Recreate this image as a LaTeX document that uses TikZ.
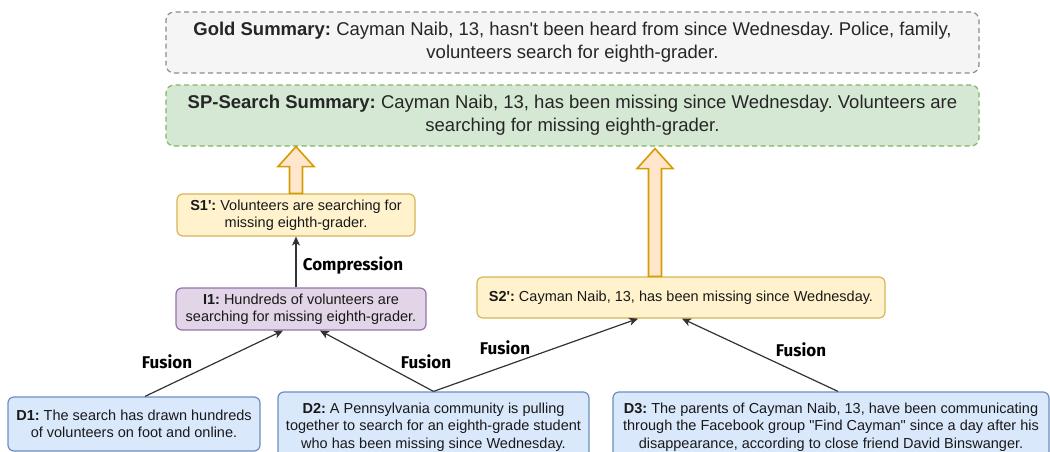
\documentclass[tikz,border=0pt]{standalone}
\usepackage{fontspec}
\setmainfont{Liberation Sans}
\newfontfamily\labelfont{Fira Sans}
\usetikzlibrary{arrows.meta,calc}
\frenchspacing
\definecolor{goldfill}{HTML}{F5F5F5}
\definecolor{golddraw}{HTML}{8C8C8C}
\definecolor{spfill}{HTML}{D5E8D4}
\definecolor{spdraw}{HTML}{82B366}
\definecolor{docfill}{HTML}{DAE8FC}
\definecolor{docdraw}{HTML}{6C8EBF}
\definecolor{sentfill}{HTML}{FFF2CC}
\definecolor{sentdraw}{HTML}{D6B656}
\definecolor{midfill}{HTML}{E1D5E7}
\definecolor{middraw}{HTML}{9673A6}
\definecolor{upfill}{HTML}{FFE6CC}
\definecolor{updraw}{HTML}{D79B00}
\definecolor{edge}{HTML}{333333}
\tikzset{
  summary/.style={rectangle, rounded corners=8pt, dashed, dash pattern=on 5pt off 3.5pt,
    line width=1.2pt, align=center, inner sep=0pt,
    font=\fontsize{18.5}{23}\selectfont, text=black!85},
  box/.style={rectangle, rounded corners=6pt, line width=1.2pt, align=center, inner sep=0pt,
    font=\fontsize{14.5}{17.5}\selectfont, text=black!90},
  doc/.style={box, draw=docdraw, fill=docfill},
  sent/.style={box, draw=sentdraw, fill=sentfill},
  mid/.style={box, draw=middraw, fill=midfill},
  link/.style={draw=edge, line width=1.2pt, -{Stealth[length=9pt,width=8pt,inset=2.5pt]}},
  tag/.style={font=\labelfont\bfseries\fontsize{17}{19}\selectfont, text=black},
  bigup/.style={draw=updraw, fill=upfill, line width=1.6pt, line join=miter},
}
\begin{document}
\begin{tikzpicture}[x=1pt, y=-1pt]
\useasboundingbox (0,0) rectangle (1050,451);

% summaries
\node[summary, draw=golddraw, fill=goldfill, minimum width=813pt, minimum height=61pt] (gold) at (572.5,42.5)
  {\textbf{Gold Summary:} Cayman Naib, 13, hasn\textquotesingle t been heard from since Wednesday. Police, family,\\
   volunteers search for eighth-grader.};
\node[summary, draw=spdraw, fill=spfill, minimum width=813pt, minimum height=61pt] (sp) at (572.5,115.5)
  {\textbf{SP-Search Summary:} Cayman Naib, 13, has been missing since Wednesday. Volunteers are\\
   searching for missing eighth-grader.};

% summary sentences and intermediate sentence
\node[sent, minimum width=238pt, minimum height=42pt] (s1) at (296,215)
  {\textbf{S1\textquotesingle:} Volunteers are searching for\\ missing eighth-grader.};
\node[mid, minimum width=250pt, minimum height=42pt] (i1) at (301,309)
  {\textbf{I1:} Hundreds of volunteers are\\ searching for missing eighth-grader.};
\node[sent, minimum width=408pt, minimum height=41pt] (s2) at (681,297.5)
  {\textbf{S2\textquotesingle:} Cayman Naib, 13, has been missing since Wednesday.};

% source documents
\node[doc, minimum width=252pt, minimum height=54pt] (d1) at (134,424)
  {\textbf{D1:} The search has drawn hundreds\\ of volunteers on foot and online.};
\node[doc, minimum width=311pt, minimum height=70pt] (d2) at (433.5,427)
  {\textbf{D2:} A Pennsylvania community is pulling\\ together to search for an eighth-grade student\\ who has been missing since Wednesday.};
\node[doc, minimum width=436pt, minimum height=70pt] (d3) at (831,427)
  {\textbf{D3:} The parents of Cayman Naib, 13, have been communicating\\ through the Facebook group \textquotedbl Find Cayman\textquotedbl{} since a day after his\\ disappearance, according to close friend David Binswanger.};

% fusion and compression edges
\draw[link] ([xshift=11pt]d1.north) -- ([xshift=-18pt]i1.south);
\draw[link] (d2.north) -- ([xshift=19pt]i1.south);
\draw[link] (d2.north) -- ([xshift=-43pt]s2.south);
\draw[link] ([xshift=7pt]d3.north) -- ([xshift=1pt]s2.south);
\draw[link] (i1.north -| s1.south) -- (s1.south);

\node[tag] (f1) at (167,362) {Fusion};
\node[tag] (f2) at (426,362) {Fusion};
\node[tag] (f3) at (505,348) {Fusion};
\node[tag] (f4) at (801,350) {Fusion};
\node[tag] (cmp) at (353,265) {Compression};

% block arrows lifting sentences into the summary
\coordinate (u1b) at (s1.north);
\coordinate (u1t) at (s1.north |- sp.south);
\draw[bigup] ([xshift=-6.5pt]u1b) -- ([xshift=-6.5pt,yshift=-20pt]u1t) -- ([xshift=-18pt,yshift=-20pt]u1t)
  -- (u1t) -- ([xshift=18pt,yshift=-20pt]u1t) -- ([xshift=6.5pt,yshift=-20pt]u1t) -- ([xshift=6.5pt]u1b) -- cycle;
\coordinate (u2b) at ([xshift=-26pt]s2.north);
\coordinate (u2t) at (u2b |- sp.south);
\draw[bigup] ([xshift=-6.5pt]u2b) -- ([xshift=-6.5pt,yshift=-22pt]u2t) -- ([xshift=-18pt,yshift=-22pt]u2t)
  -- ([yshift=-2pt]u2t) -- ([xshift=18pt,yshift=-22pt]u2t) -- ([xshift=6.5pt,yshift=-22pt]u2t) -- ([xshift=6.5pt]u2b) -- cycle;
\end{tikzpicture}
\end{document}
